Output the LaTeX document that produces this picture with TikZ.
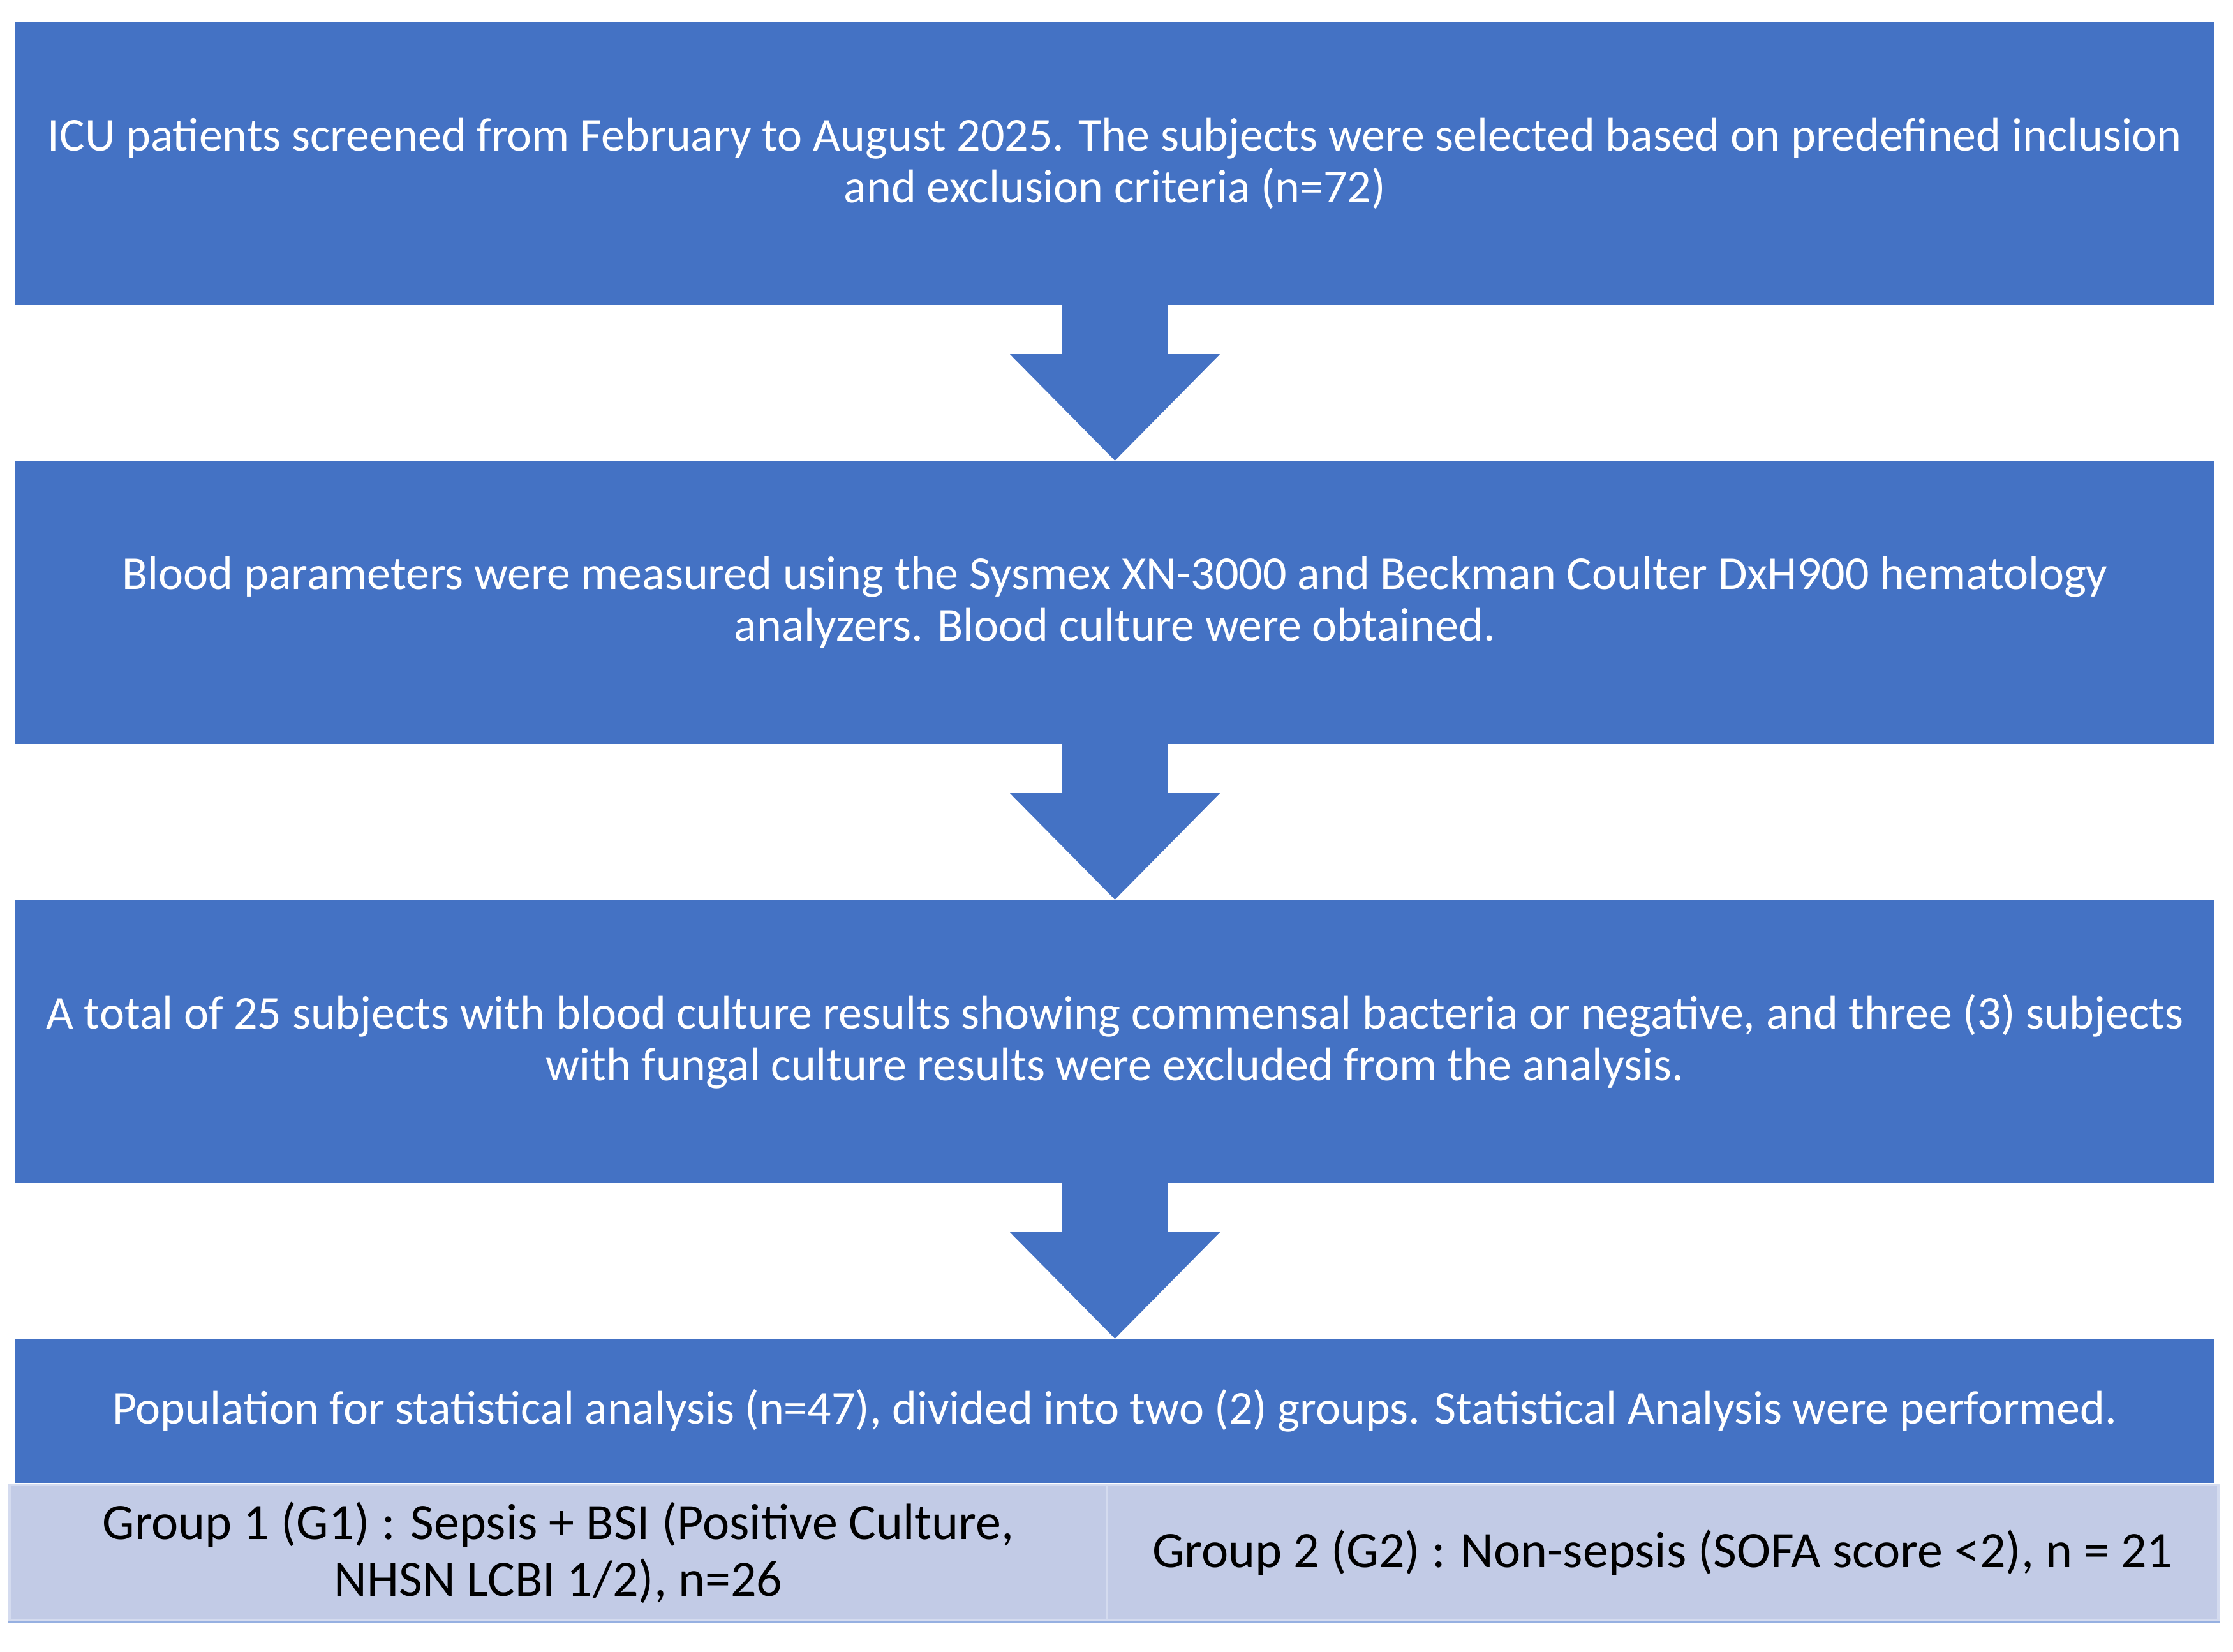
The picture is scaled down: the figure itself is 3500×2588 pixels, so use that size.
\documentclass[tikz,border=0pt]{standalone}
\usepackage{fontspec}
\setmainfont{Carlito}
\usetikzlibrary{calc}
\definecolor{boxblue}{RGB}{68,114,196}
\definecolor{cellfill}{RGB}{194,203,230}
\definecolor{cellline}{RGB}{212,219,239}
\definecolor{cellbottom}{RGB}{150,176,225}
\tikzset{
  bluebox/.style={fill=boxblue, draw=none, inner sep=0pt, minimum width=3447pt, minimum height=444pt,
    text=white, align=center, font=\fontsize{74}{81}\selectfont},
  lastbox/.style={bluebox, minimum height=226pt},
  cellbox/.style={fill=cellfill, draw=cellline, line width=4pt, inner sep=0pt, minimum height=213pt,
    text=black, align=center, font=\fontsize{80}{89}\selectfont},
  flowarrow/.style={fill=boxblue, draw=none}
}
\newcommand{\downarrowshape}[2]{%
  \fill[flowarrow] ($(#1.south)+(-83,0)$) -- ($(#1.south)+(-83,77)$) -- ($(#1.south)+(-164.5,77)$)
    -- (#2.north) -- ($(#1.south)+(164.5,77)$) -- ($(#1.south)+(83,77)$) -- ($(#1.south)+(83,0)$) -- cycle;}
\begin{document}
\begin{tikzpicture}[x=1pt,y=-1pt]
\useasboundingbox (0,0) rectangle (3500,2588);
\node[bluebox] (b1) at (1747.5,256) {ICU patients screened from February to August 2025. The subjects were selected based on predefined inclusion\\and exclusion criteria (n=72)};
\node[bluebox] (b2) at (1747.5,944) {Blood parameters were measured using the Sysmex XN-3000 and Beckman Coulter DxH900 hematology\\analyzers. Blood culture were obtained.};
\node[bluebox] (b3) at (1747.5,1632) {A total of 25 subjects with blood culture results showing commensal bacteria or negative, and three (3) subjects\\with fungal culture results were excluded from the analysis.};
\node[lastbox] (b4) at (1747.5,2211) {Population for statistical analysis (n=47), divided into two (2) groups. Statistical Analysis were performed.};
\node[cellbox, minimum width=1720pt] (g1) at (875,2433.5) {Group 1 (G1) : Sepsis + BSI (Positive Culture,\\NHSN LCBI 1/2), n=26};
\node[cellbox, minimum width=1742pt] (g2) at (2606,2433.5) {Group 2 (G2) : Non-sepsis (SOFA score <2), n = 21};
\draw[cellbottom, line width=4pt] (g1.south west) -- (g2.south east);
\downarrowshape{b1}{b2}
\downarrowshape{b2}{b3}
\downarrowshape{b3}{b4}
\end{tikzpicture}
\end{document}
